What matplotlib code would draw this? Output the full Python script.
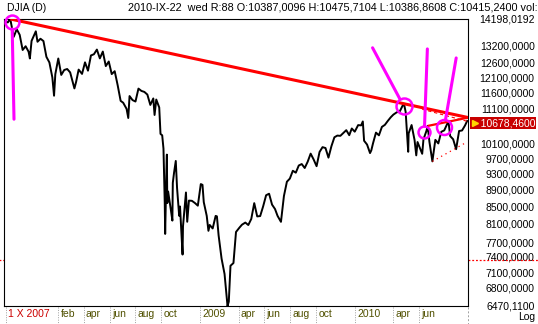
import pandas as pd
import matplotlib
matplotlib.use("Agg")
import matplotlib.pyplot as plt
import matplotlib.transforms as mtransforms
from matplotlib.ticker import NullLocator, NullFormatter

plt.rcParams['font.family'] = ['Liberation Sans', 'DejaVu Sans']
plt.rcParams['font.size'] = 7.5

# DJIA daily line (weekly points plus the visible spikes)
dates_2007 = ['2007-10-01', '2007-10-05', '2007-10-09', '2007-10-11', '2007-10-12', '2007-10-19',
              '2007-10-26', '2007-11-02', '2007-11-09', '2007-11-16', '2007-11-23', '2007-11-26',
              '2007-11-30', '2007-12-07', '2007-12-10', '2007-12-14', '2007-12-21', '2007-12-28']
closes_2007 = [14087, 14066, 14165, 14198, 14093, 13522,
               13807, 13595, 13043, 13177, 12981, 12743,
               13372, 13626, 13727, 13340, 13451, 13366]

dates_2008 = ['2008-01-04', '2008-01-11', '2008-01-18', '2008-01-22', '2008-01-25', '2008-02-01',
              '2008-02-08', '2008-02-15', '2008-02-22', '2008-02-29', '2008-03-07', '2008-03-10',
              '2008-03-14', '2008-03-20', '2008-03-28', '2008-04-04', '2008-04-11', '2008-04-18',
              '2008-04-25', '2008-05-02', '2008-05-09', '2008-05-16', '2008-05-23', '2008-05-30',
              '2008-06-06', '2008-06-13', '2008-06-20', '2008-06-27', '2008-07-03', '2008-07-11',
              '2008-07-15', '2008-07-18', '2008-07-25', '2008-08-01', '2008-08-08', '2008-08-15',
              '2008-08-22', '2008-08-29', '2008-09-05', '2008-09-12', '2008-09-15', '2008-09-19',
              '2008-09-26', '2008-09-29', '2008-10-03', '2008-10-06', '2008-10-09', '2008-10-10',
              '2008-10-13', '2008-10-14', '2008-10-15', '2008-10-17', '2008-10-22', '2008-10-24',
              '2008-10-27', '2008-10-28', '2008-10-31', '2008-11-04', '2008-11-07', '2008-11-12',
              '2008-11-14', '2008-11-20', '2008-11-21', '2008-11-28', '2008-12-01', '2008-12-05',
              '2008-12-12', '2008-12-19', '2008-12-26']
closes_2008 = [12800, 12606, 12099, 11508, 12207, 12743,
               12182, 12348, 12381, 12266, 11894, 11740,
               11951, 12361, 12216, 12609, 12325, 12849,
               12892, 13058, 12746, 12987, 12480, 12638,
               12210, 12307, 11843, 11347, 11289, 11101,
               10827, 11497, 11371, 11326, 11734, 11660,
               11628, 11544, 11221, 11422, 10917, 11388,
               11143, 10365, 10325, 9955, 8579, 7882,
               9387, 9794, 8577, 8852, 8519, 8379,
               8175, 9065, 9325, 9625, 8944, 8283,
               8497, 7449, 8046, 8829, 8149, 8635,
               8630, 8579, 8516]

dates_2009 = ['2009-01-02', '2009-01-06', '2009-01-09', '2009-01-16', '2009-01-20', '2009-01-23',
              '2009-01-30', '2009-02-06', '2009-02-09', '2009-02-13', '2009-02-20', '2009-02-27',
              '2009-03-06', '2009-03-09', '2009-03-13', '2009-03-20', '2009-03-26', '2009-04-03',
              '2009-04-09', '2009-04-17', '2009-04-24', '2009-05-01', '2009-05-08', '2009-05-15',
              '2009-05-22', '2009-05-29', '2009-06-05', '2009-06-12', '2009-06-19', '2009-06-26',
              '2009-07-02', '2009-07-10', '2009-07-17', '2009-07-24', '2009-07-31', '2009-08-07',
              '2009-08-14', '2009-08-21', '2009-08-28', '2009-09-04', '2009-09-11', '2009-09-18',
              '2009-09-25', '2009-10-02', '2009-10-09', '2009-10-16', '2009-10-23', '2009-10-30',
              '2009-11-06', '2009-11-13', '2009-11-20', '2009-11-27', '2009-12-04', '2009-12-11',
              '2009-12-18', '2009-12-24', '2009-12-31']
closes_2009 = [9035, 9015, 8599, 8281, 7949, 8078,
               8001, 8281, 8270, 7850, 7366, 7063,
               6470, 6547, 7224, 7278, 7924, 8018,
               8083, 8131, 8076, 8212, 8575, 8269,
               8277, 8500, 8763, 8799, 8540, 8438,
               8281, 8147, 8744, 9093, 9172, 9370,
               9321, 9506, 9544, 9441, 9605, 9820,
               9665, 9488, 9865, 9996, 9972, 9713,
               10023, 10270, 10318, 10310, 10389, 10472,
               10329, 10520, 10428]

dates_2010 = ['2010-01-08', '2010-01-15', '2010-01-19', '2010-01-22', '2010-01-29', '2010-02-05',
              '2010-02-08', '2010-02-12', '2010-02-19', '2010-02-26', '2010-03-05', '2010-03-12',
              '2010-03-19', '2010-03-26', '2010-04-01', '2010-04-09', '2010-04-16', '2010-04-23',
              '2010-04-26', '2010-04-30', '2010-05-06', '2010-05-07', '2010-05-14', '2010-05-21',
              '2010-05-25', '2010-05-28', '2010-06-04', '2010-06-08', '2010-06-11', '2010-06-18',
              '2010-06-21', '2010-06-25', '2010-07-02', '2010-07-09', '2010-07-16', '2010-07-23',
              '2010-07-30', '2010-08-06', '2010-08-09', '2010-08-13', '2010-08-20', '2010-08-27',
              '2010-09-03', '2010-09-10', '2010-09-17', '2010-09-22']
closes_2010 = [10618, 10610, 10725, 10173, 10067, 9835,
               9908, 10099, 10402, 10325, 10566, 10625,
               10742, 10850, 10927, 10997, 11019, 11204,
               11258, 11009, 9870, 10380, 10620, 10193,
               9774, 10137, 9932, 9816, 10211, 10451,
               10594, 10144, 9614, 10198, 10098, 10425,
               10466, 10654, 10719, 10303, 10214, 9940,
               10448, 10463, 10608, 10739]

# right axis labels
ytick_values = [14198.0192, 13200, 12600, 12100, 11600, 11100, 10100, 9700, 9300,
                8900, 8500, 8100, 7700, 7400, 7100, 6800, 6470.11]
ytick_labels = ['14198,0192', '13200,0000', '12600,0000', '12100,0000', '11600,0000',
                '11100,0000', '10100,0000', '9700,0000', '9300,0000', '8900,0000',
                '8500,0000', '8100,0000', '7700,0000', '7400,0000', '7100,0000',
                '6800,0000', '6470,1100']
last_value = 10678.46
last_label = '10678,4600'

# bottom axis labels
month_ticks = ['2007-10-01', '2008-02-01', '2008-04-01', '2008-06-01', '2008-08-01', '2008-10-01',
               '2009-01-01', '2009-04-01', '2009-06-01', '2009-08-01', '2009-10-01',
               '2010-01-01', '2010-04-01', '2010-06-01']
month_labels = ['1 X 2007', 'feb', 'apr', 'jun', 'aug', 'oct',
                '2009', 'apr', 'jun', 'aug', 'oct',
                '2010', 'apr', 'jun']

# drawn trend lines (date, value pairs)
main_trend_dates = ['2007-10-11', '2010-04-26']
main_trend_values = [14198, 11258]
upper_trend_dates = ['2010-06-21', '2010-08-09']
upper_trend_values = [10594, 10719]
dashed_dates = ['2010-06-08', '2010-09-22']
dashed_values = [11090, 10730]
support_dates = ['2010-07-02', '2010-09-22']
support_values = [9614, 10140]
level_value = 7340

# magenta marks
circle_dates = ['2007-10-15', '2010-04-25', '2010-06-13', '2010-07-30']
circle_values = [14082, 11193, 10420, 10564]
circle_sizes = [10, 11.5, 8.6, 10.8]
pointer_offsets = [(1.4, -70), (-22.3, 41.8), (2.2, 59.8), (8.6, 49.7)]

dates = pd.to_datetime(dates_2007 + dates_2008 + dates_2009 + dates_2010)
closes = closes_2007 + closes_2008 + closes_2009 + closes_2010

x_start = pd.Timestamp('2007-09-26')
x_end = pd.Timestamp('2010-09-24')


def extend_line(d, v, end):
    # straight line on the log chart, carried on to the right edge
    import numpy as np
    t = pd.to_datetime(d)
    days = (t[1] - t[0]).days
    slope = (np.log(v[1]) - np.log(v[0])) / days
    end_val = np.exp(np.log(v[0]) + slope * (end - t[0]).days)
    return [t[0], end], [v[0], end_val]


fig = plt.figure(figsize=(5.38, 3.24), dpi=100)
fig.patch.set_facecolor('white')
ax = fig.add_axes([4 / 538, 18 / 324, 464 / 538, 287 / 324])

ax.plot(dates, closes, color='black', lw=1.4, zorder=3)

ax.set_yscale('log')
ax.set_ylim(6470.11, 14198.0192)
ax.set_xlim(x_start, x_end)

# trend lines
tx, ty = extend_line(main_trend_dates, main_trend_values, x_end)
ax.plot(tx, ty, color='#ff0000', lw=2.2, zorder=4, solid_capstyle='butt')
tx, ty = extend_line(upper_trend_dates, upper_trend_values, x_end)
ax.plot(tx, ty, color='#ff0000', lw=1.6, zorder=4, solid_capstyle='butt')
ax.plot(pd.to_datetime(dashed_dates), dashed_values, color='#ff0000', lw=0.8,
        ls=(0, (3, 2.5)), zorder=4)
ax.plot(pd.to_datetime(support_dates), support_values, color='#ff0000', lw=0.9,
        ls=(0, (1, 3)), zorder=4)

# magenta circles and pointer strokes
for d, v, s, off in zip(circle_dates, circle_values, circle_sizes, pointer_offsets):
    x = pd.Timestamp(d)
    ax.plot([x], [v], marker='o', ms=s, mfc='none', mec='#ff00ff', mew=1.8,
            zorder=6, clip_on=False)
    ax.annotate('', xy=(x, v), xytext=off, textcoords='offset points',
                arrowprops=dict(arrowstyle='-', color='#ff00ff', lw=2.2,
                                shrinkA=0, shrinkB=s / 2),
                zorder=6, annotation_clip=False)

# right axis
ax.yaxis.tick_right()
ax.set_yticks(ytick_values)
ax.set_yticklabels(ytick_labels)
ax.yaxis.set_minor_locator(NullLocator())
ax.yaxis.set_minor_formatter(NullFormatter())
ax.tick_params(axis='y', length=0, pad=48, labelsize=7.5)
for lbl in ax.get_yticklabels():
    lbl.set_horizontalalignment('right')

ax.set_xticks([])
for sp in ax.spines.values():
    sp.set_color('black')
    sp.set_linewidth(0.8)

ytrans = mtransforms.blended_transform_factory(ax.transAxes, ax.transData)
xtrans = mtransforms.blended_transform_factory(ax.transData, ax.transAxes)

# last price box
ax.text((535 - 4) / 464, last_value, '   ' + last_label, transform=ytrans,
        ha='right', va='center', color='white', fontsize=7.5,
        bbox=dict(boxstyle='square,pad=0.12', fc='#c80000', ec='none'), clip_on=False)
ax.plot([(475 - 4) / 464], [last_value], marker='>', ms=5, color='#ffd700',
        transform=ytrans, clip_on=False, zorder=7)

# horizontal level, only seen in the margins
ax.plot([1.0, 1.16], [level_value, level_value], transform=ytrans, color='#ff0000',
        lw=0.9, ls=(0, (1.5, 1.5)), clip_on=False)
ax.plot([-0.01, 0.0], [level_value, level_value], transform=ytrans, color='#ff0000',
        lw=0.9, ls=(0, (1.5, 1.5)), clip_on=False)

# bottom labels with dotted separators
for i, (d, lab) in enumerate(zip(month_ticks, month_labels)):
    x = pd.Timestamp(d)
    ax.plot([x, x], [-0.005, -0.065], transform=xtrans, color='#a0a0a0', lw=0.7,
            ls=(0, (1, 1.5)), clip_on=False)
    ax.text(x + pd.Timedelta(days=5), -0.028, lab, transform=xtrans, ha='left', va='center',
            color='#cc0000' if i == 0 else '#505000', fontsize=7.5)
ax.plot([1.0, 1.0], [-0.005, -0.065], transform=ax.transAxes, color='#a0a0a0', lw=0.7,
        ls=(0, (2, 2)), clip_on=False)

fig.text(535 / 538, 1 - 317 / 324, 'Log', ha='right', va='center', fontsize=7.5)

# header
fig.text(7 / 538, 1 - 8 / 324, 'DJIA (D)', ha='left', va='center', fontsize=7.5)
fig.text(128 / 538, 1 - 8 / 324,
         '2010-IX-22  wed R:88 O:10387,0096 H:10475,7104 L:10386,8608 C:10415,2400 vol:',
         ha='left', va='center', fontsize=7.8)

fig.savefig('out.png', dpi=100)
